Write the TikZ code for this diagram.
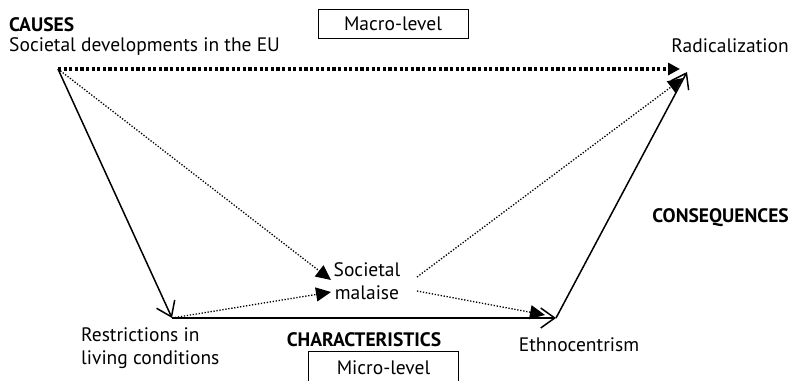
\documentclass[tikz,border=0pt]{standalone}
\usepackage{fontspec}
\setmainfont{PT Sans}
\usetikzlibrary{arrows.meta}
\tikzset{>=stealth,
  txt/.style={font=\fontsize{19.5}{23.5}\selectfont, inner sep=0pt},
  head/.style={font=\fontsize{19.5}{23.5}\selectfont\bfseries, inner sep=0pt},
  levelbox/.style={draw, line width=1pt, minimum width=150pt, minimum height=29pt, inner sep=0pt, font=\fontsize{19.5}{23.5}\selectfont},
  path/.style={line width=1.5pt, -{Straight Barb[length=14pt,width=20pt,line width=1.5pt]}},
  weak/.style={line width=1.3pt, dash pattern=on 1.3pt off 1.7pt, -{Triangle[length=15pt,width=14pt]}},
  strong/.style={line width=3.2pt, dash pattern=on 3.2pt off 2.4pt, -{Triangle[length=12pt,width=12pt]}}}

\begin{document}
\begin{tikzpicture}[x=1pt,y=-1pt]
   \useasboundingbox (0,0) rectangle (792,380);
   % labels
   \node[head, anchor=west] at (9, 25)   (causes) {CAUSES};
   \node[txt, anchor=west] at (9, 47)   (dev) {Societal developments in the EU};
   \node[levelbox] at (393, 24)   (macro) {Macro-level};
   \node[txt, anchor=east] at (789, 46)   (rad) {Radicalization};
   \node[head, anchor=east] at (789, 218)   (cons) {CONSEQUENCES};
   \node[txt, align=center] at (367, 281)   (mal) {Societal\\malaise};
   \node[txt, align=left, anchor=west] at (81, 348)   (restr) {Restrictions in\\living conditions};
   \node[head] at (364, 340)   (char) {CHARACTERISTICS};
   \node[levelbox, minimum height=34pt] at (383.5, 368)   (micro) {Micro-level};
   \node[txt] at (579, 345)   (ethno) {Ethnocentrism};
   % points
   \coordinate (a) at (58, 69);
   \coordinate (b) at (172, 318);
   \coordinate (c) at (556, 318);
   \coordinate (d) at (687, 72);
   \coordinate (radin) at (680, 69);
   \coordinate (radlow) at (683, 78);
   \coordinate (malhi) at (331, 280);
   \coordinate (mallo) at (331, 292);
   \coordinate (malout) at (417, 277);
   \coordinate (malright) at (417, 291);
   \coordinate (ethin) at (545, 315);
   % arrows
   \draw[strong] (a)--(radin);
   \draw[path] (a)--(b);
   \draw[path] (b)--(c);
   \draw[path] (c)--(d);
   \draw[weak] (a)--(malhi);
   \draw[weak] (b)--(mallo);
   \draw[weak] (malright)--(ethin);
   \draw[weak] (malout)--(radlow);
\end{tikzpicture}
\end{document}
